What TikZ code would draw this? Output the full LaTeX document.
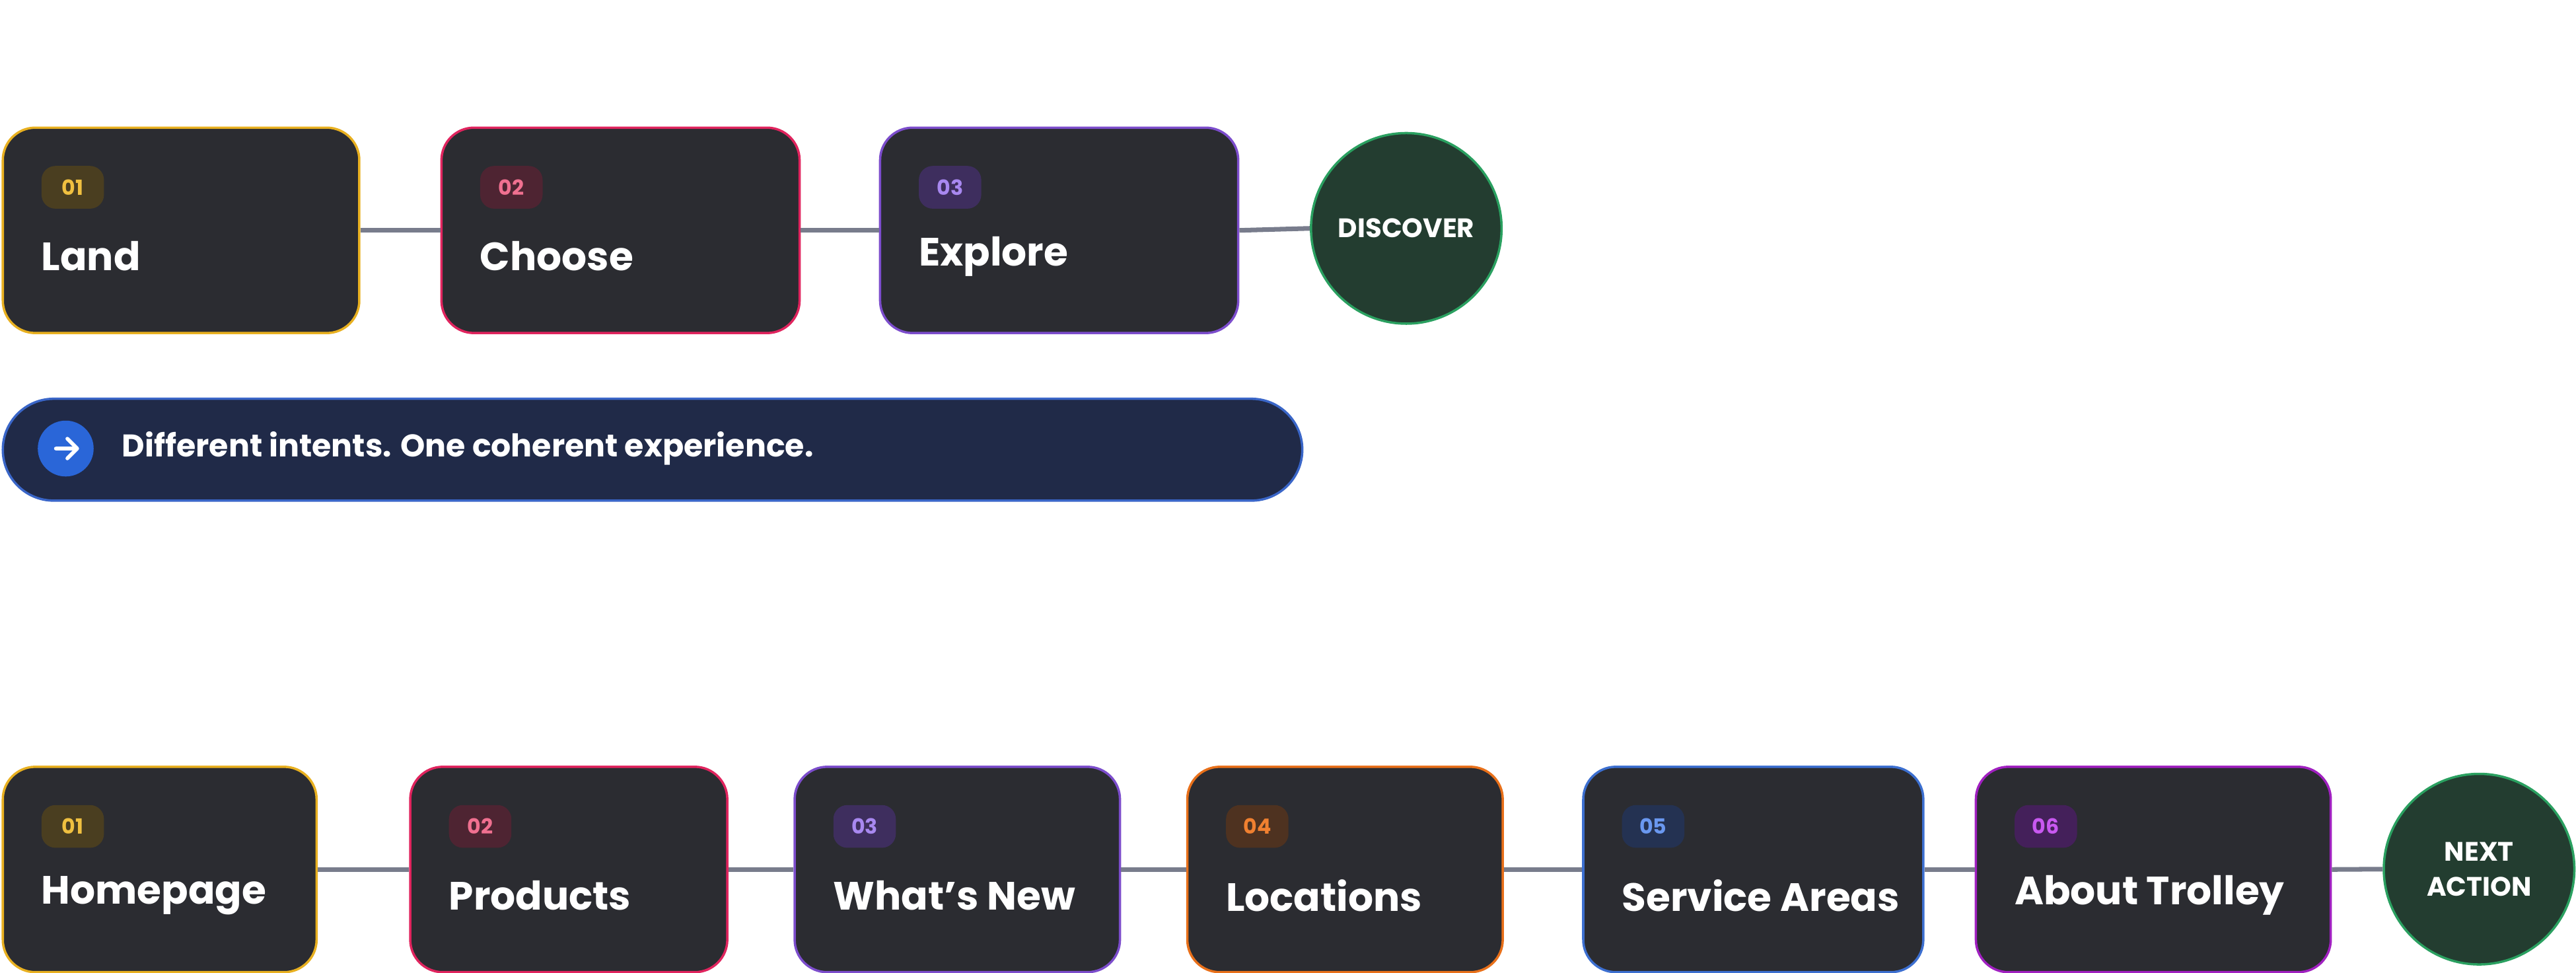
\documentclass[tikz,border=0pt]{standalone}
\usepackage{fontspec}
\setmainfont{Poppins}
\newlength\ux \setlength\ux{0.02487cm}
\definecolor{boxbg}{HTML}{2B2C31}
\definecolor{lnk}{HTML}{787C8C}
\definecolor{cY}{HTML}{E8B020}\definecolor{bY}{HTML}{4A3E20}\definecolor{tY}{HTML}{F0C040}
\definecolor{cP}{HTML}{E0245E}\definecolor{bP}{HTML}{4E2432}\definecolor{tP}{HTML}{F07090}
\definecolor{cV}{HTML}{7C4DCC}\definecolor{bV}{HTML}{3E2E5E}\definecolor{tV}{HTML}{A888F0}
\definecolor{cO}{HTML}{E8701A}\definecolor{bO}{HTML}{4E3220}\definecolor{tO}{HTML}{F08030}
\definecolor{cB}{HTML}{3C6FD0}\definecolor{bB}{HTML}{243252}\definecolor{tB}{HTML}{6A98F0}
\definecolor{cM}{HTML}{A020C0}\definecolor{bM}{HTML}{44205A}\definecolor{tM}{HTML}{C858F0}
\definecolor{cirbg}{HTML}{233D30}\definecolor{cirbd}{HTML}{2AA060}
\definecolor{navy}{HTML}{202A48}\definecolor{navyb}{HTML}{3A66C8}\definecolor{iconb}{HTML}{2A66D8}
\tikzset{
 box/.style={draw, line width=1pt, fill=boxbg, rounded corners=14pt, anchor=north west, minimum height=125\ux, inner sep=0pt},
 badge/.style={rounded corners=6pt, minimum width=38\ux, minimum height=26\ux, inner sep=0pt, font=\bfseries\fontsize{9}{9}\selectfont},
 ttl/.style={anchor=west, text=white, font=\bfseries\fontsize{17}{17}\selectfont, inner sep=0pt},
 cir/.style={circle, draw=cirbd, line width=1pt, fill=cirbg, minimum size=116\ux, inner sep=0pt, text=white, align=center, font=\bfseries\fontsize{11.5}{15}\selectfont},
 lk/.style={draw=lnk, line width=2pt}
}
\newcommand\stepbox[8]{% name, x, y, w, border, badgefill, badgetext, num/title
 \node[box, draw=#5, minimum width=#4\ux] (#1) at (#2\ux,-#3\ux) {};
 \node[badge, fill=#6, text=#7, anchor=west] (#1b) at ([xshift=24\ux,yshift=-37\ux]#1.north west) {\csname num#1\endcsname};
 \node[ttl] (#1t) at ([xshift=24\ux,yshift=-79\ux]#1.north west) {#8};
}
\begin{document}
\begin{tikzpicture}
\useasboundingbox (0,0) rectangle (1568\ux,-592\ux);
% top row
\def\numa{01}\def\numb{02}\def\numc{03}
\stepbox{a}{1}{77}{217}{cY}{bY}{tY}{Land}
\stepbox{b}{268}{77}{218}{cP}{bP}{tP}{Choose}
\stepbox{c}{535}{77}{218}{cV}{bV}{tV}{Explore}
\node[cir] (d) at (856\ux,-139\ux) {DISCOVER};
\begin{scope}[on background layer/.try]
\end{scope}
\draw[lk] (a.east) -- (b.west);
\draw[lk] (b.east) -- (c.west);
\draw[lk] (c.east) -- (d.west);
% banner
\node[draw=navyb, line width=1pt, fill=navy, rounded corners=31\ux, anchor=north west, minimum width=791\ux, minimum height=62\ux, inner sep=0pt] (ban) at (1\ux,-242\ux) {};
\node[circle, fill=iconb, minimum size=34\ux, inner sep=0pt] (ic) at (40\ux,-273\ux) {};
\draw[white, line width=1.6pt, line cap=round, line join=round] ([xshift=-6\ux]ic.center) -- ([xshift=7\ux]ic.center) ([xshift=1\ux,yshift=6\ux]ic.center) -- ([xshift=7\ux]ic.center) -- ([xshift=1\ux,yshift=-6\ux]ic.center);
\node[anchor=west, text=white, inner sep=0pt, font=\bfseries\fontsize{13.5}{14}\selectfont] (bt) at (74\ux,-273\ux) {Different intents. One coherent experience.};
% bottom row
\def\nume{01}\def\numf{02}\def\numg{03}\def\numh{04}\def\numi{05}\def\numj{06}
\stepbox{e}{1}{466}{191}{cY}{bY}{tY}{Homepage}
\stepbox{f}{249}{466}{193}{cP}{bP}{tP}{Products}
\stepbox{g}{483}{466}{198}{cV}{bV}{tV}{What’s New}
\stepbox{h}{722}{466}{192}{cO}{bO}{tO}{Locations}
\stepbox{i}{963}{466}{207}{cB}{bB}{tB}{Service Areas}
\stepbox{j}{1202}{466}{216}{cM}{bM}{tM}{About Trolley}
\node[cir] (k) at (1509\ux,-529\ux) {NEXT\\ACTION};
\draw[lk] (e.east) -- (f.west);
\draw[lk] (f.east) -- (g.west);
\draw[lk] (g.east) -- (h.west);
\draw[lk] (h.east) -- (i.west);
\draw[lk] (i.east) -- (j.west);
\draw[lk] (j.east) -- (k.west);
\end{tikzpicture}
\end{document}
